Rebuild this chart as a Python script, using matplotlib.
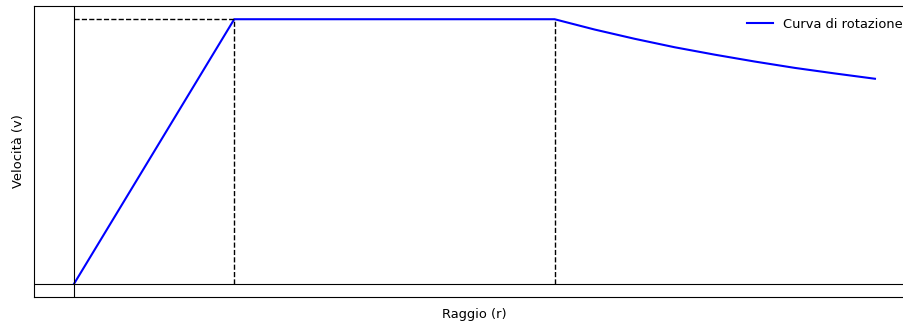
import matplotlib.pyplot as plt

# raggio e velocita' (unita' arbitrarie)
raggio = [0.0, 1.0, 3.0, 3.25, 3.5, 3.75, 4.0, 4.25, 4.5, 4.75, 5.0]
velocita = [0.0, 1.0, 1.0, 0.961, 0.926, 0.894, 0.866, 0.840, 0.816, 0.795, 0.775]

r_a = 1.0
r_b = 3.0
v_max = 1.0

plt.rcParams['font.size'] = 9.4

fig = plt.figure(figsize=(9.04, 3.27), dpi=100)
ax = fig.add_axes([34 / 904, 30 / 327, 881 / 904, 291 / 327])

ax.plot(raggio, velocita, color='blue', label='Curva di rotazione')

ax.axhline(0, color='black', linewidth=0.8)
ax.axvline(0, color='black', linewidth=0.8)

ax.plot([0, r_a], [v_max, v_max], color='black', linestyle='--', linewidth=1)
ax.plot([r_a, r_a], [0, v_max], color='black', linestyle='--', linewidth=1)
ax.plot([r_b, r_b], [0, v_max], color='black', linestyle='--', linewidth=1)

ax.set_xticks([])
ax.set_yticks([])
ax.set_xlabel('Raggio (r)', labelpad=8)
ax.set_ylabel('Velocità (v)', labelpad=6.5)
ax.legend(loc='upper right', frameon=False)

fig.savefig('out.png', dpi=100)
